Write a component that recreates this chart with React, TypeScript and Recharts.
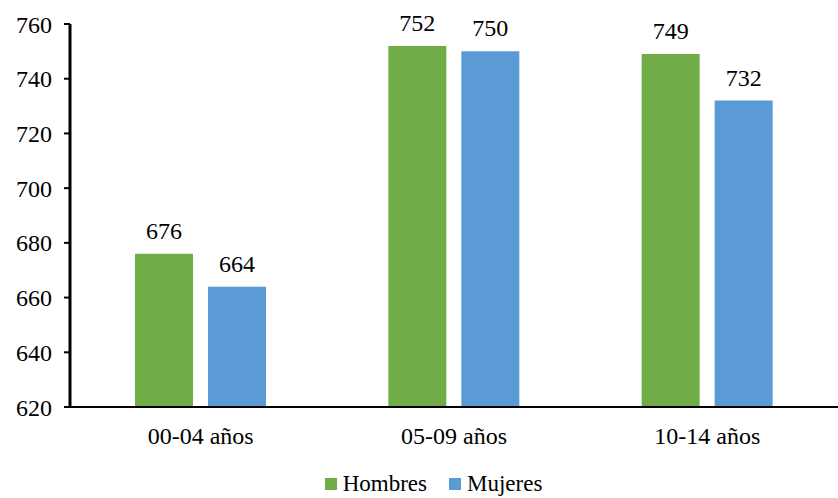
import { BarChart, Bar, XAxis, YAxis, Legend, LabelList } from 'recharts';

const categories = ['00-04 años', '05-09 años', '10-14 años'];
const hombres = [676, 752, 749];
const mujeres = [664, 750, 732];
const yTicks = [620, 640, 660, 680, 700, 720, 740, 760];

const data = categories.map((name, i) => ({
  name,
  Hombres: hombres[i],
  Mujeres: mujeres[i],
}));

const font = 'Liberation Serif, DejaVu Serif, serif';
const tickStyle = { fill: '#000', fontSize: 24, fontFamily: font };

const legendItems = [
  { name: 'Hombres', color: '#70AD47' },
  { name: 'Mujeres', color: '#5B9BD5' },
];

function renderLegend() {
  return (
    <div
      style={{
        display: 'flex',
        justifyContent: 'center',
        alignItems: 'center',
        paddingLeft: 29,
        fontFamily: font,
        fontSize: 23,
        color: '#000',
      }}
    >
      {legendItems.map((it, i) => (
        <div key={it.name} style={{ display: 'flex', alignItems: 'center', marginLeft: i > 0 ? 22 : 0 }}>
          <span style={{ width: 12, height: 12, background: it.color, marginRight: 6, display: 'inline-block' }} />
          <span>{it.name}</span>
        </div>
      ))}
    </div>
  );
}

export default function App() {
  return (
    <div style={{ position: 'absolute', left: 0, top: 0, background: '#fff', fontFamily: font }}>
      <BarChart
        width={838}
        height={498}
        data={data}
        margin={{ top: 24, right: 0, left: 0, bottom: 0 }}
        barGap={15}
        barSize={58}
        style={{ fontFamily: font }}
      >
        <XAxis
          dataKey="name"
          axisLine={{ stroke: '#000', strokeWidth: 2 }}
          tickLine={false}
          tick={tickStyle}
          tickMargin={14}
          height={54}
          padding={{ left: 4, right: 4 }}
        />
        <YAxis
          domain={[620, 760]}
          ticks={yTicks}
          allowDataOverflow
          width={70}
          axisLine={{ stroke: '#000', strokeWidth: 3 }}
          tickLine={{ stroke: '#000', strokeWidth: 2 }}
          tickSize={6}
          tickMargin={12}
          tick={tickStyle}
        />
        <Legend
          verticalAlign="bottom"
          height={27}
          wrapperStyle={{ paddingTop: 10 }}
          content={renderLegend}
        />
        <Bar dataKey="Hombres" fill="#70AD47" isAnimationActive={false}>
          <LabelList dataKey="Hombres" position="top" offset={15} style={tickStyle} />
        </Bar>
        <Bar dataKey="Mujeres" fill="#5B9BD5" isAnimationActive={false}>
          <LabelList dataKey="Mujeres" position="top" offset={15} style={tickStyle} />
        </Bar>
      </BarChart>
    </div>
  );
}
